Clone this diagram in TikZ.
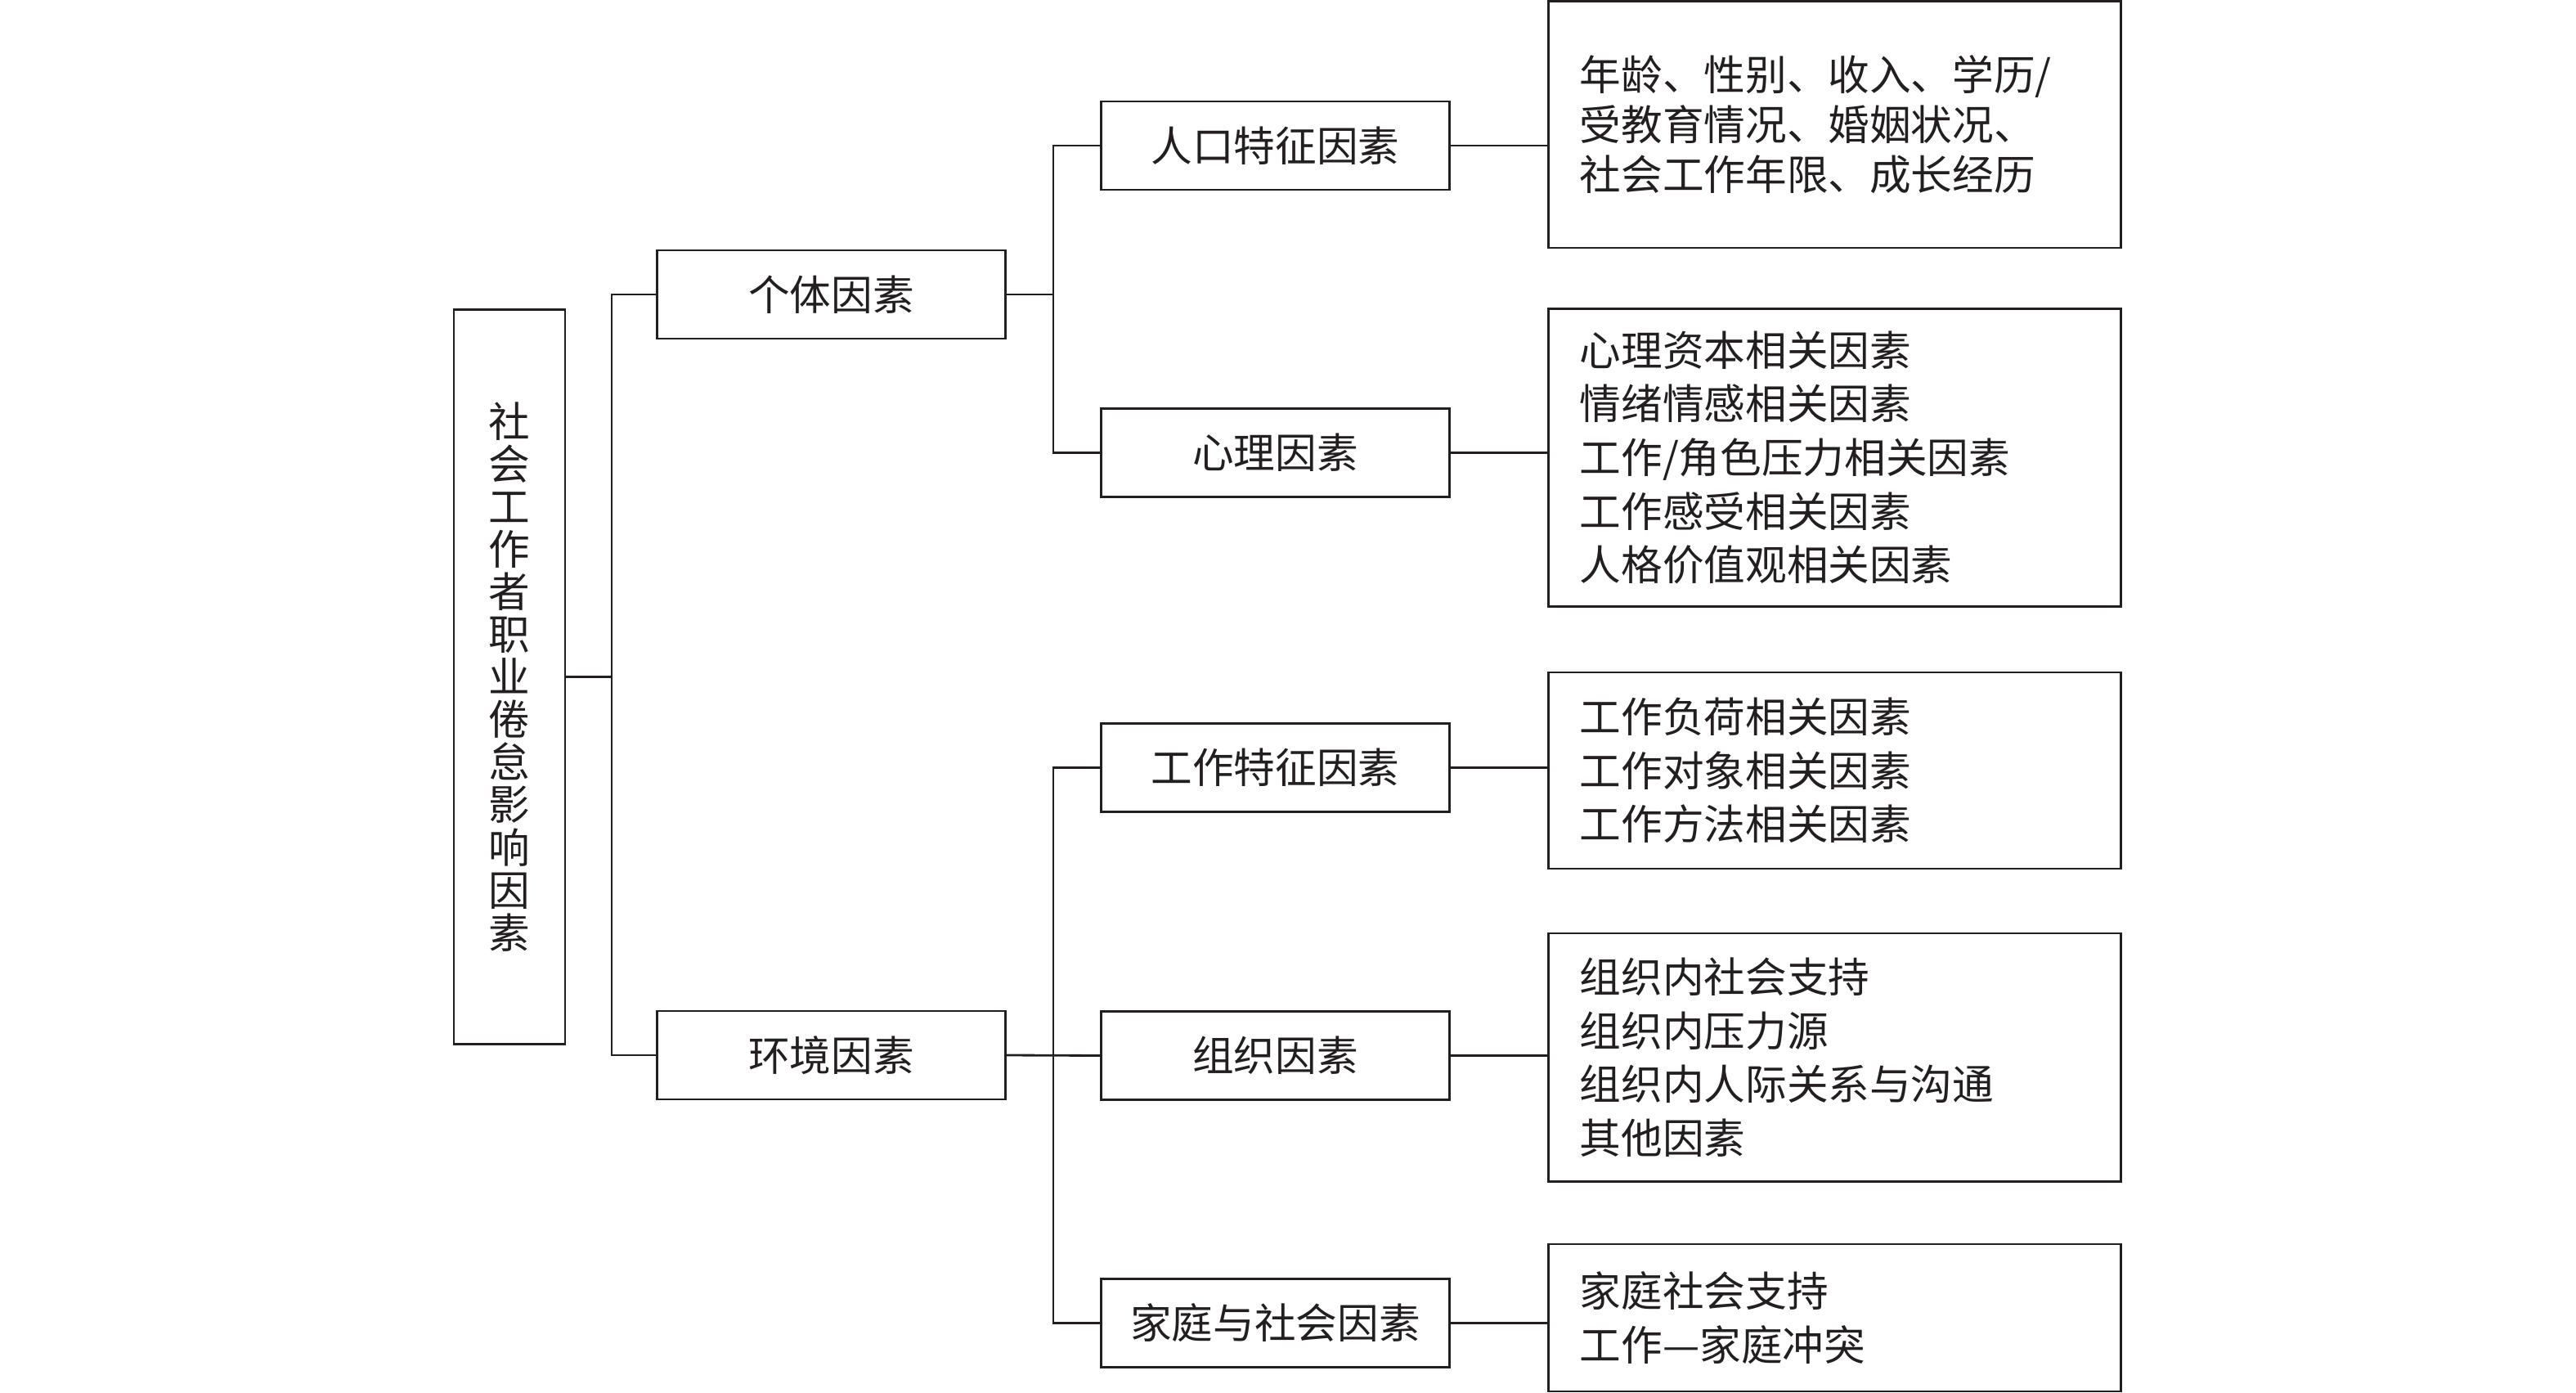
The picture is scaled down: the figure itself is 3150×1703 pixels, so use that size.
\documentclass[tikz,border=0pt]{standalone}
\usepackage{fontspec}
\setmainfont{Noto Sans CJK SC}
\definecolor{ink}{RGB}{35,31,32}
\begin{document}
\begin{tikzpicture}[x=0.01cm,y=-0.01cm,
  box/.style={draw=ink, line width=0.8pt, inner sep=0pt, align=center, text=ink,
    font=\fontsize{14.4pt}{0.656cm}\selectfont},
  lvl/.style={box, minimum width=4.25cm, minimum height=1.08cm},
  mid/.style={box, minimum width=4.25cm, minimum height=1.08cm},
  leaf/.style={box, minimum width=6.99cm, text width=6.23cm, align=left, inner xsep=0.38cm},
  link/.style={draw=ink, line width=0.8pt}]
\useasboundingbox (0,0) rectangle (3150,1703);
\node[box, minimum width=1.36cm, minimum height=8.97cm,
  font=\fontsize{14.4pt}{0.52cm}\selectfont] (root) at (623,827.5)
  {社\\会\\工\\作\\者\\职\\业\\倦\\怠\\影\\响\\因\\素};
\node[lvl] (ind) at (1016.5,360) {个体因素};
\node[lvl] (env) at (1016.5,1290) {环境因素};
\node[mid] (demo) at (1559.5,178) {人口特征因素};
\node[mid] (psy) at (1559.5,553.5) {心理因素};
\node[mid] (job) at (1559.5,938.5) {工作特征因素};
\node[mid] (org) at (1559.5,1290.5) {组织因素};
\node[mid] (fam) at (1559.5,1617.5) {家庭与社会因素};
\node[leaf, minimum height=3.015cm, font=\fontsize{14.4pt}{0.606cm}\selectfont] (r1) at (2243.5,152.2)
  {年龄、性别、收入、学历/\\受教育情况、婚姻状况、\\社会工作年限、成长经历};
\node[leaf, minimum height=3.63cm] (r2) at (2243.5,559.5)
  {心理资本相关因素\\情绪情感相关因素\\工作/角色压力相关因素\\工作感受相关因素\\人格价值观相关因素};
\node[leaf, minimum height=2.40cm] (r3) at (2243.5,942)
  {工作负荷相关因素\\工作对象相关因素\\工作方法相关因素};
\node[leaf, minimum height=3.03cm] (r4) at (2243.5,1292.5)
  {组织内社会支持\\组织内压力源\\组织内人际关系与沟通\\其他因素};
\node[leaf, minimum height=1.80cm] (r5) at (2243.5,1611)
  {家庭社会支持\\工作—家庭冲突};
\coordinate (t1) at (748,0);
\coordinate (t2) at (1288,0);
\draw[link] (root.east) -- (root.east -| t1);
\draw[link] (ind.west) -- (ind.west -| t1) -- (env.west -| t1) -- (env.west);
\draw[link] (ind.east) -- (ind.east -| t2);
\draw[link] (demo.west) -- (demo.west -| t2) -- (psy.west -| t2) -- (psy.west);
\draw[link] (env.east) -- (org.west);
\draw[link] (job.west) -- (job.west -| t2) -- (fam.west -| t2) -- (fam.west);
\draw[link] (demo.east) -- (demo.east -| r1.west);
\draw[link] (psy.east) -- (psy.east -| r2.west);
\draw[link] (job.east) -- (job.east -| r3.west);
\draw[link] (org.east) -- (org.east -| r4.west);
\draw[link] (fam.east) -- (fam.east -| r5.west);
\end{tikzpicture}
\end{document}
